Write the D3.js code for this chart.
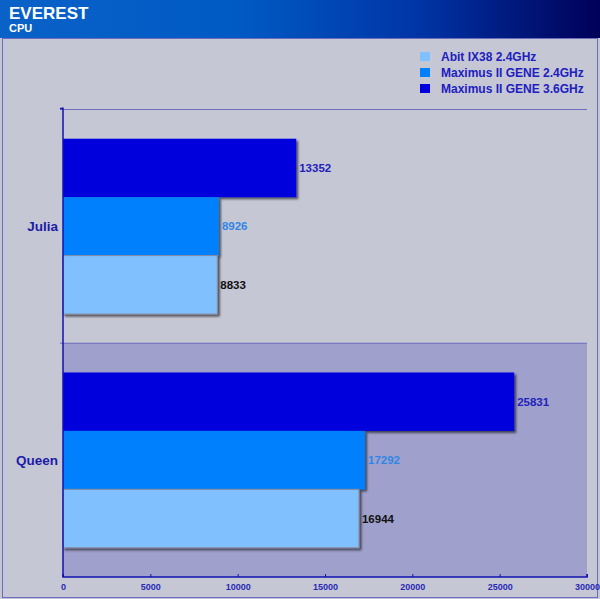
<!DOCTYPE html>
<html><head><meta charset="utf-8">
<script src="https://cdn.jsdelivr.net/npm/d3@7"></script>
<style>html,body{margin:0;padding:0;background:#fff;}svg{display:block;font-family:"Liberation Sans",Arial,sans-serif;}</style>
</head><body>
<script>
const categories = ["Julia", "Queen"];
const seriesNames = ["Maximus II GENE 3.6GHz", "Maximus II GENE 2.4GHz", "Abit IX38 2.4GHz"];
const julia = [13352, 8926, 8833];
const queen = [25831, 17292, 16944];
const tickValues = [0, 5000, 10000, 15000, 20000, 25000, 30000];
const legendOrder = ["Abit IX38 2.4GHz", "Maximus II GENE 2.4GHz", "Maximus II GENE 3.6GHz"];

const barColors = {"Maximus II GENE 3.6GHz":"#0000dc","Maximus II GENE 2.4GHz":"#0080fc","Abit IX38 2.4GHz":"#80c0fe"};
const labelColors = {"Maximus II GENE 3.6GHz":"#2222bb","Maximus II GENE 2.4GHz":"#2f86e6","Abit IX38 2.4GHz":"#111111"};
const data = [julia, queen];

const W = 600, H = 599;
const svg = d3.select("body").append("svg").attr("width", W).attr("height", H);
const defs = svg.append("defs");
const grad = defs.append("linearGradient").attr("id","hdr").attr("x1","0").attr("x2","1").attr("y1","0").attr("y2","0");
[[0,"#0a62c8"],[0.4,"#005ac4"],[0.7,"#0034a6"],[1,"#000058"]].forEach(([o,c])=>grad.append("stop").attr("offset",o).attr("stop-color",c));
const f = defs.append("filter").attr("id","sh").attr("x","-10%").attr("y","-10%").attr("width","130%").attr("height","130%");
f.append("feDropShadow").attr("dx",2).attr("dy",2).attr("stdDeviation",1).attr("flood-color","#000").attr("flood-opacity",0.6);

// background
svg.append("rect").attr("x",0).attr("y",0).attr("width",W).attr("height",H).attr("fill","#c6c7d4");
svg.append("rect").attr("x",2.5).attr("y",38.5).attr("width",595).attr("height",559).attr("fill","#c6c7d4").attr("stroke","#6c6cbc").attr("stroke-width",1);
// header
svg.append("rect").attr("x",0).attr("y",0).attr("width",W).attr("height",38).attr("fill","url(#hdr)");
svg.append("text").attr("x",9).attr("y",19).attr("fill","#fff").attr("font-weight","bold").attr("font-size",17).text("EVEREST");
svg.append("text").attr("x",9).attr("y",31.5).attr("fill","#fff").attr("font-weight","bold").attr("font-size",11).text("CPU");

const x0 = 63, x1 = 587, yTop = 109.5, yBot = 577;
const x = d3.scaleLinear().domain([0, 30000]).range([x0, x1]);
const y = d3.scaleBand().domain(categories).range([yTop, yBot]);
const yInner = d3.scaleBand().domain(seriesNames).range([0, y.bandwidth()]).paddingOuter(0.5).paddingInner(0);

// bands
svg.append("rect").attr("x",x0).attr("y",y("Queen")).attr("width",x1-x0).attr("height",y.bandwidth()).attr("fill","#9fa0cc");
categories.forEach(c=>{
  svg.append("line").attr("x1",x0-3).attr("x2",x1).attr("y1",y(c)).attr("y2",y(c)).attr("stroke","#6c6cc0").attr("stroke-width",1.2);
});

// bars
categories.forEach((c,ci)=>{
  const g = svg.append("g").attr("transform",`translate(0,${y(c)})`);
  seriesNames.forEach((s,si)=>{
    const v = data[ci][si];
    g.append("rect").attr("x",x(0)).attr("y",yInner(s)).attr("width",x(v)-x(0)).attr("height",yInner.bandwidth())
      .attr("fill",barColors[s]).attr("filter","url(#sh)")
      .attr("stroke", si===2 ? "#8a8aa0" : "none").attr("stroke-width",1);
    g.append("text").attr("x",x(v)+3).attr("y",yInner(s)+yInner.bandwidth()/2).attr("dy","0.35em")
      .attr("font-weight","bold").attr("font-size",11.5).attr("fill",labelColors[s]).text(v);
  });
  svg.append("text").attr("x",58).attr("y",y(c)+y.bandwidth()/2).attr("dy","0.35em").attr("text-anchor","end")
    .attr("font-weight","bold").attr("font-size",13.5).attr("fill","#1c1ca8").text(c);
});

// axes
const xAxis = d3.axisBottom(x).tickValues(tickValues).tickSize(4).tickFormat(d3.format("d"));
const ax = svg.append("g").attr("transform",`translate(0,${yBot})`).call(xAxis);
ax.select(".domain").attr("stroke","#1212b0").attr("stroke-width",1.5).attr("d",`M${x0},-3V0H${x1}V-3`);
ax.selectAll(".tick line").attr("stroke","#1212b0").attr("y1",-3).attr("y2",0);
ax.selectAll(".tick text").attr("fill","#2a2ab4").attr("font-weight","bold").attr("font-size",9).attr("font-family","Liberation Sans, Arial, sans-serif").attr("y",7);
svg.append("line").attr("x1",x0).attr("x2",x0).attr("y1",yTop-2).attr("y2",yBot).attr("stroke","#1212b0").attr("stroke-width",1.5);
svg.append("line").attr("x1",x0-3).attr("x2",x0).attr("y1",yTop-1).attr("y2",yTop-1).attr("stroke","#1212b0").attr("stroke-width",1.5);

// legend
const lg = svg.append("g");
legendOrder.forEach((s,i)=>{
  const ly = 56.5 + i*16;
  lg.append("rect").attr("x",420).attr("y",ly-4.5).attr("width",10).attr("height",9).attr("fill",barColors[s]);
  lg.append("text").attr("x",441).attr("y",ly).attr("dy","0.35em").attr("font-weight","bold").attr("font-size",12).attr("fill","#2020c0").text(s);
});
</script>
</body></html>
